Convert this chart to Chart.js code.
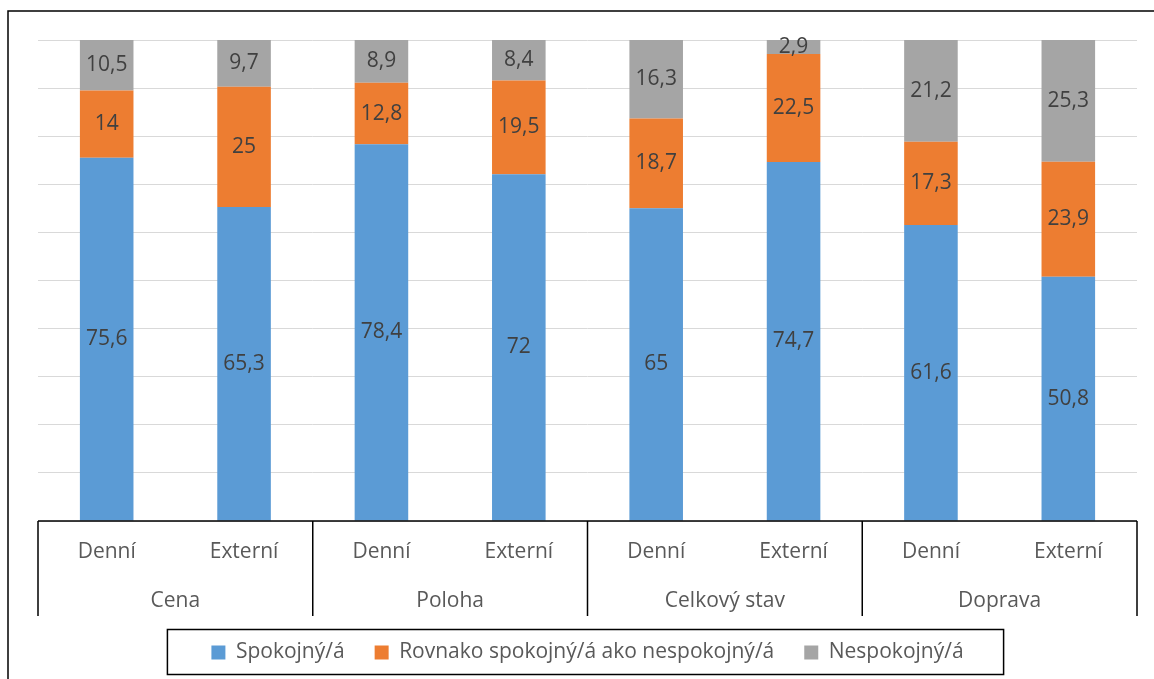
<!DOCTYPE html>
<html>
<head>
<meta charset="utf-8">
<script src="https://cdn.jsdelivr.net/npm/chart.js@4.4.1/dist/chart.umd.min.js"></script>
<style>
  html, body { margin: 0; padding: 0; background: #fff; overflow: hidden; }
  #wrap { width: 1154px; height: 679px; position: relative; }
</style>
</head>
<body>
<div id="wrap"><canvas id="myChart"></canvas></div>
<script>
var categories = ["Denní", "Externí", "Denní", "Externí", "Denní", "Externí", "Denní", "Externí"];
var groups = ["Cena", "Poloha", "Celkový stav", "Doprava"];
var seriesNames = ["Spokojný/á", "Rovnako spokojný/á ako nespokojný/á", "Nespokojný/á"];
var spokojny = [75.6, 65.3, 78.4, 72, 65, 74.7, 61.6, 50.8];
var rovnako = [14, 25, 12.8, 19.5, 18.7, 22.5, 17.3, 23.9];
var nespokojny = [10.5, 9.7, 8.9, 8.4, 16.3, 2.9, 21.2, 25.3];
var colors = ["#5B9BD5", "#ED7D31", "#A5A5A5"];

var FONT = "'Open Sans', 'Liberation Sans', sans-serif";

// 100 % stacked, like the original
function share(arr) {
  return arr.map(function (v, i) {
    return v / (spokojny[i] + rovnako[i] + nespokojny[i]) * 100;
  });
}

var raw = [spokojny, rovnako, nespokojny];

var dataLabels = {
  id: "dataLabels",
  afterDatasetsDraw: function (chart) {
    var ctx = chart.ctx;
    ctx.save();
    ctx.font = "21px " + FONT;
    ctx.fillStyle = "#404040";
    ctx.textAlign = "center";
    ctx.textBaseline = "middle";
    chart.data.datasets.forEach(function (ds, d) {
      chart.getDatasetMeta(d).data.forEach(function (bar, i) {
        var txt = String(raw[d][i]).replace(".", ",");
        ctx.fillText(txt, bar.x, (bar.y + bar.base) / 2);
      });
    });
    ctx.restore();
  }
};

var frames = {
  id: "frames",
  afterDraw: function (chart) {
    var ctx = chart.ctx;
    var area = chart.chartArea;
    ctx.save();
    ctx.strokeStyle = "#000";
    ctx.lineWidth = 1.5;
    // outer frame
    ctx.strokeRect(8, 11, 1300, 800);
    // axis line and group separators
    ctx.beginPath();
    ctx.moveTo(area.left, area.bottom);
    ctx.lineTo(area.right, area.bottom);
    for (var g = 0; g <= groups.length; g++) {
      var px = area.left + g * area.width / groups.length;
      ctx.moveTo(px, area.bottom);
      ctx.lineTo(px, area.bottom + 95);
    }
    ctx.stroke();
    // legend box
    var hb = chart.legend.legendHitBoxes;
    if (hb && hb.length) {
      var l = hb[0].left, r = hb[hb.length - 1].left + hb[hb.length - 1].width;
      var cy = hb[0].top + hb[0].height / 2;
      ctx.strokeRect(l - 44, cy - 23, r - l + 84, 45);
    }
    ctx.restore();
  }
};

var ctx = document.getElementById("myChart").getContext("2d");
var chart = new Chart(ctx, {
  type: "bar",
  data: {
    labels: categories,
    datasets: raw.map(function (arr, d) {
      return {
        label: seriesNames[d],
        data: share(arr),
        backgroundColor: colors[d],
        barPercentage: 0.39,
        categoryPercentage: 1
      };
    })
  },
  options: {
    responsive: true,
    maintainAspectRatio: false,
    animation: false,
    events: [],
    layout: { padding: { left: 38, right: 17, top: 40, bottom: 6 } },
    scales: {
      x: {
        stacked: true,
        weight: 1,
        grid: { display: false, drawTicks: false },
        border: { display: false },
        ticks: { color: "#595959", font: { family: FONT, size: 21 }, padding: 18, maxRotation: 0, autoSkip: false },
        afterFit: function (s) { s.height = 46; }
      },
      x2: {
        type: "category",
        position: "bottom",
        labels: groups,
        offset: true,
        weight: 2,
        grid: { display: false, drawTicks: false },
        border: { display: false },
        ticks: { color: "#595959", font: { family: FONT, size: 21 }, padding: 21, maxRotation: 0, autoSkip: false },
        afterFit: function (s) { s.height = 45; }
      },
      y: {
        stacked: true,
        min: 0,
        max: 100,
        ticks: { display: false, stepSize: 10 },
        grid: { color: "#d9d9d9", lineWidth: 1, drawTicks: false },
        border: { display: false },
        afterFit: function (s) { s.width = 0; }
      }
    },
    plugins: {
      legend: {
        position: "bottom",
        labels: {
          color: "#595959",
          font: { family: FONT, size: 21 },
          boxWidth: 14,
          boxHeight: 14,
          padding: 30
        }
      },
      tooltip: { enabled: false },
      title: { display: false }
    }
  },
  plugins: [dataLabels, frames]
});
</script>
</body>
</html>
